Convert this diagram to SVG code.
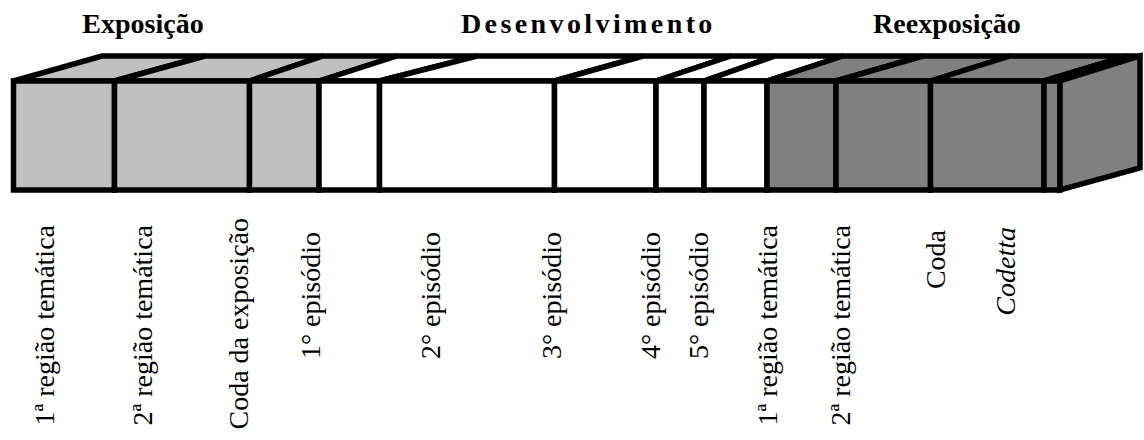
<svg xmlns="http://www.w3.org/2000/svg" width="1144" height="440" viewBox="0 0 1144 440">
<style>
.s{stroke:#000;stroke-width:5.5;stroke-linejoin:miter}
.l{fill:#c0c0c0}.w{fill:#fff}.d{fill:#808080}
.h{font-size:28px;font-weight:bold;text-anchor:middle;fill:#000}
.t{font-size:28px;text-anchor:end;fill:#000}
.i{font-style:italic}
</style>
<rect width="1144" height="440" fill="#fff"/>
<g id="headings" font-family="'Liberation Serif', 'Times New Roman', serif">
<text class="h" x="143" y="33">Exposição</text>
<text class="h" x="461" y="33" style="text-anchor:start;letter-spacing:3.4px">Desenvolvimento</text>
<text class="h" x="947" y="33">Reexposição</text>
</g>
<g id="seg1"><polygon class="s l" points="13.5,81 102,56 205,56 114.5,81"/><rect class="s l" x="13.5" y="81" width="101" height="109"/></g>
<g id="seg2"><polygon class="s l" points="114.5,81 205,56 323,56 249.5,81"/><rect class="s l" x="114.5" y="81" width="135" height="109"/></g>
<g id="seg3"><polygon class="s l" points="249.5,81 323,56 397,56 319,81"/><rect class="s l" x="249.5" y="81" width="69.5" height="109"/></g>
<g id="seg4"><polygon class="s w" points="319,81 397,56 477,56 379.5,81"/><rect class="s w" x="319" y="81" width="60.5" height="109"/></g>
<g id="seg5"><polygon class="s w" points="379.5,81 477,56 643,56 554.5,81"/><rect class="s w" x="379.5" y="81" width="175" height="109"/></g>
<g id="seg6"><polygon class="s w" points="554.5,81 643,56 731,56 656,81"/><rect class="s w" x="554.5" y="81" width="101.5" height="109"/></g>
<g id="seg7"><polygon class="s w" points="656,81 731,56 775,56 704,81"/><rect class="s w" x="656" y="81" width="48" height="109"/></g>
<g id="seg8"><polygon class="s w" points="704,81 775,56 843,56 767,81"/><rect class="s w" x="704" y="81" width="63" height="109"/></g>
<g id="seg9"><polygon class="s d" points="767,81 843,56 923,56 836,81"/><rect class="s d" x="767" y="81" width="69" height="109"/></g>
<g id="seg10"><polygon class="s d" points="836,81 923,56 1010,56 930.5,81"/><rect class="s d" x="836" y="81" width="94.5" height="109"/></g>
<g id="seg11"><polygon class="s d" points="930.5,81 1010,56 1127,56 1044,81"/><rect class="s d" x="930.5" y="81" width="113.5" height="109"/></g>
<g id="seg12"><polygon class="s d" points="1044,81 1127,56 1140,56 1060,81"/><rect class="s d" x="1044" y="81" width="16" height="109"/></g>
<g id="end"><polygon class="s d" points="1060,81 1140,56 1140,168 1060,190"/></g>
<g id="labels" font-family="'Liberation Serif', 'Times New Roman', serif">
<text class="t" transform="translate(54,225) rotate(-90)">1ª região temática</text>
<text class="t" transform="translate(152,225) rotate(-90)">2ª região temática</text>
<text class="t" transform="translate(248,218) rotate(-90)">Coda da exposição</text>
<text class="t" transform="translate(320,232) rotate(-90)">1° episódio</text>
<text class="t" transform="translate(440,232) rotate(-90)">2° episódio</text>
<text class="t" transform="translate(561,232) rotate(-90)">3° episódio</text>
<text class="t" transform="translate(660,232) rotate(-90)">4° episódio</text>
<text class="t" transform="translate(708,232) rotate(-90)">5° episódio</text>
<text class="t" transform="translate(777,225) rotate(-90)">1ª região temática</text>
<text class="t" transform="translate(850,225) rotate(-90)">2ª região temática</text>
<text class="t" transform="translate(945,230) rotate(-90)">Coda</text>
<text class="t i" transform="translate(1015,227) rotate(-90)">Codetta</text>
</g>
</svg>
